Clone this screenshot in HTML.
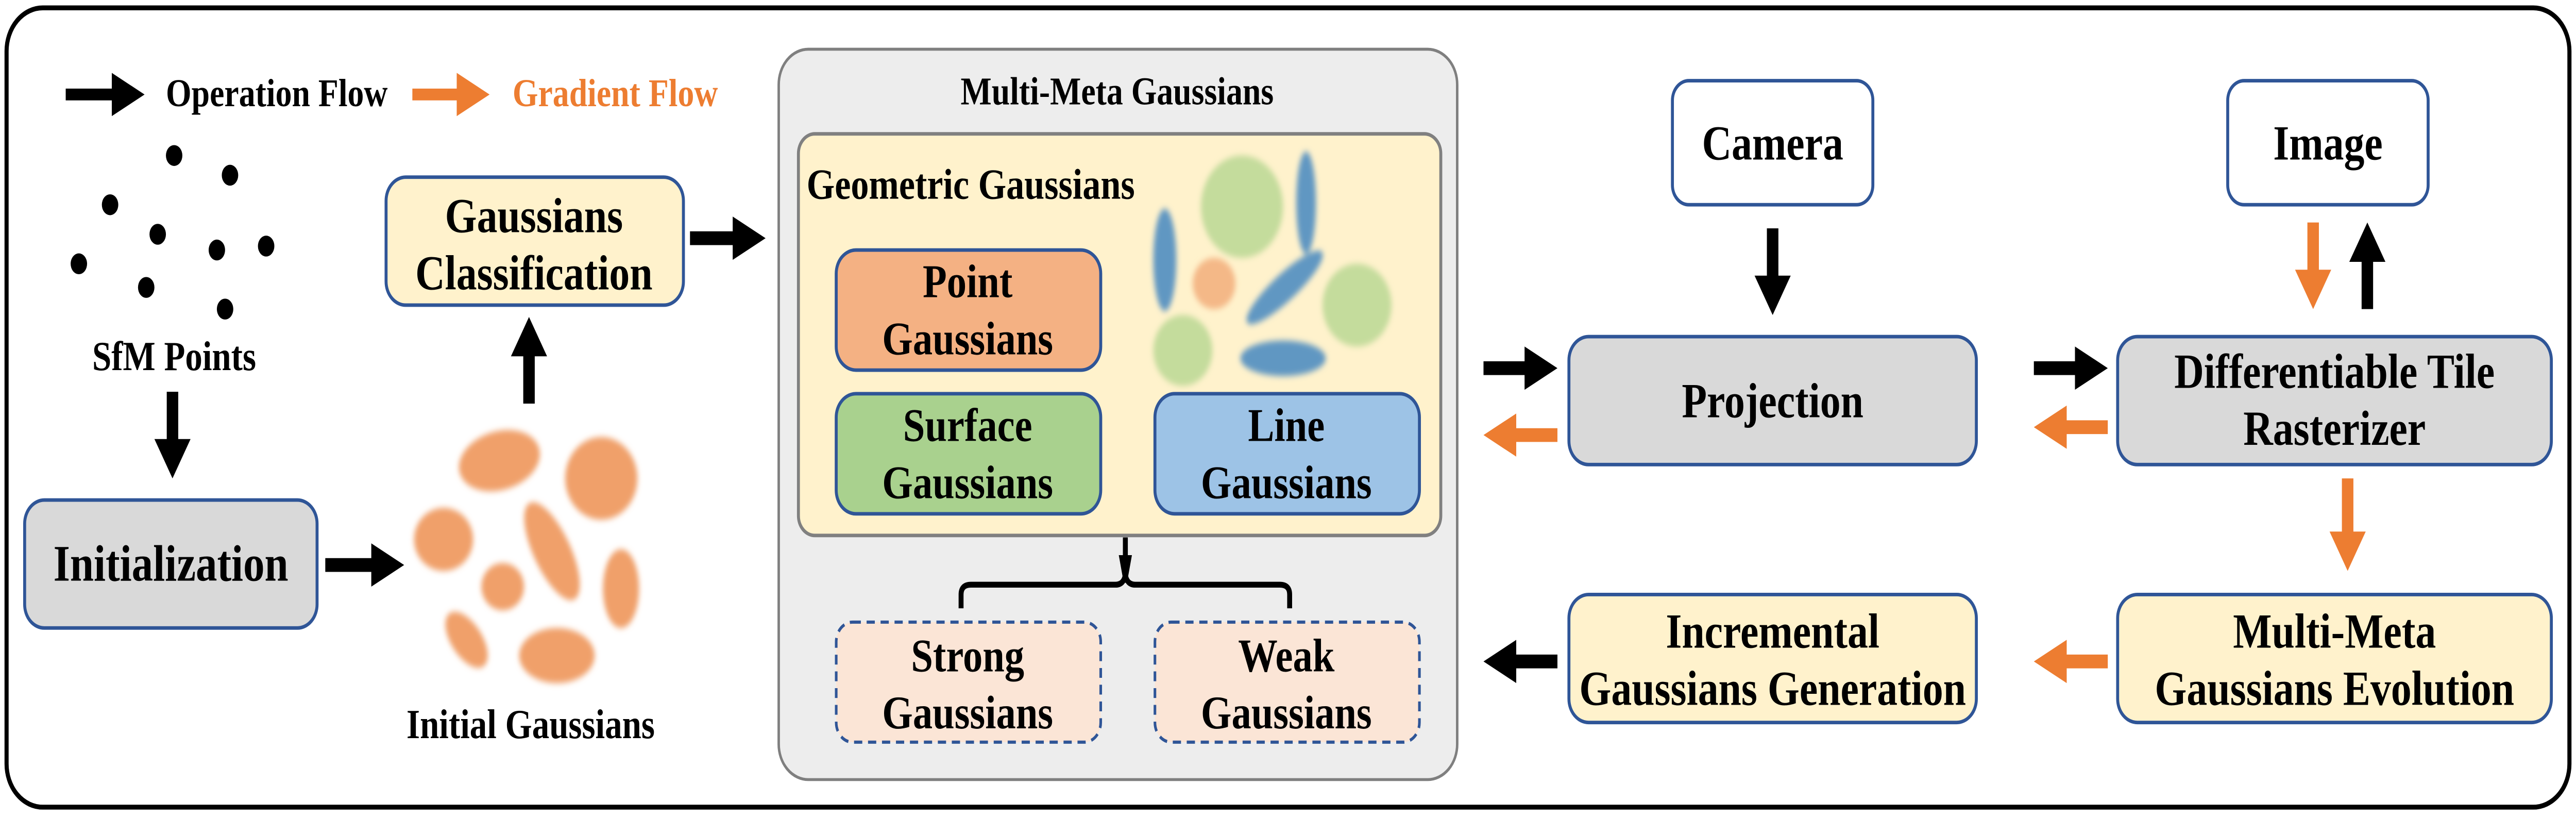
<!DOCTYPE html>
<html><head><meta charset="utf-8"><style>
html,body{margin:0;padding:0;background:#fff;overflow:hidden;width:100%;height:100%;}
svg{display:block;width:100vw;height:100vh;}
text{font-family:"Liberation Serif",serif;font-weight:bold;fill:#000;}
</style></head><body>
<svg viewBox="0 0 1568 415" preserveAspectRatio="none" xmlns="http://www.w3.org/2000/svg">
<defs>
<marker id="hb" markerUnits="userSpaceOnUse" markerWidth="22" markerHeight="24" refX="8" refY="11" orient="auto"><path d="M0,0 L20,11 L0,22 z" fill="#000"/></marker>
<marker id="ho" markerUnits="userSpaceOnUse" markerWidth="22" markerHeight="24" refX="8" refY="11" orient="auto"><path d="M0,0 L20,11 L0,22 z" fill="#ed7d31"/></marker>
<filter id="bl" x="-50%" y="-50%" width="200%" height="200%"><feGaussianBlur stdDeviation="1.6"/></filter>
</defs>
<rect x="4" y="4" width="1560" height="406" rx="22" fill="#fff" stroke="#000" stroke-width="2.5"/>

<line x1="40" y1="48" x2="76" y2="48" stroke="#000" stroke-width="6" marker-end="url(#hb)"/>
<text x="101" y="54" font-size="20">Operation Flow</text>
<line x1="251" y1="48" x2="286" y2="48" stroke="#ed7d31" stroke-width="6" marker-end="url(#ho)"/>
<text x="312" y="54" font-size="20" style="fill:#ed7d31">Gradient Flow</text>

<g fill="#000">
<ellipse cx="106" cy="79" rx="5" ry="5.3"/><ellipse cx="140" cy="89" rx="5" ry="5.3"/>
<ellipse cx="67" cy="104" rx="5" ry="5.3"/><ellipse cx="96" cy="119" rx="5" ry="5.3"/>
<ellipse cx="132" cy="127" rx="5" ry="5.3"/><ellipse cx="162" cy="125" rx="5" ry="5.3"/>
<ellipse cx="48" cy="134" rx="5" ry="5.3"/><ellipse cx="89" cy="146" rx="5" ry="5.3"/>
<ellipse cx="137" cy="157" rx="5" ry="5.3"/>
</g>
<text x="106" y="188" font-size="21" text-anchor="middle">SfM Points</text>
<line x1="105" y1="199" x2="105" y2="231" stroke="#000" stroke-width="7" marker-end="url(#hb)"/>

<rect x="15" y="254" width="178" height="65" rx="12" fill="#d9d9d9" stroke="#2f5597" stroke-width="1.8"/>
<text x="104" y="295" font-size="26" text-anchor="middle">Initialization</text>
<line x1="198" y1="287" x2="234" y2="287" stroke="#000" stroke-width="7" marker-end="url(#hb)"/>

<g fill="#f0a06a" filter="url(#bl)">
<ellipse cx="304" cy="234" rx="25" ry="15" transform="rotate(-12 304 234)"/>
<ellipse cx="366" cy="243" rx="22" ry="21"/>
<ellipse cx="270" cy="274" rx="18" ry="16"/>
<ellipse cx="336" cy="280" rx="11" ry="28" transform="rotate(-30 336 280)"/>
<ellipse cx="306" cy="298" rx="13" ry="12"/>
<ellipse cx="378" cy="299" rx="11" ry="20"/>
<ellipse cx="284" cy="325" rx="9" ry="17" transform="rotate(-40 284 325)"/>
<ellipse cx="339" cy="333" rx="23" ry="14"/>
</g>
<text x="323" y="375" font-size="21" text-anchor="middle">Initial Gaussians</text>
<line x1="322" y1="205" x2="322" y2="173" stroke="#000" stroke-width="7" marker-end="url(#hb)"/>

<rect x="235" y="90" width="181" height="65" rx="12" fill="#fff2cc" stroke="#2f5597" stroke-width="1.8"/>
<text x="325" y="118" font-size="25" text-anchor="middle">Gaussians</text>
<text x="325" y="147" font-size="25" text-anchor="middle">Classification</text>
<line x1="420" y1="121" x2="454" y2="121" stroke="#000" stroke-width="7" marker-end="url(#hb)"/>

<rect x="474" y="25" width="413" height="371" rx="18" fill="#ededed" stroke="#7f7f7f" stroke-width="1.5"/>
<text x="680" y="53" font-size="20" text-anchor="middle">Multi-Meta Gaussians</text>
<rect x="486" y="68" width="391" height="204" rx="10" fill="#fff2cc" stroke="#808080" stroke-width="1.8"/>
<text x="491" y="101" font-size="22">Geometric Gaussians</text>
<g filter="url(#bl)">
<ellipse cx="756" cy="105" rx="25" ry="26" fill="#c4dc9c"/>
<ellipse cx="826" cy="155" rx="21" ry="21" fill="#c4dc9c"/>
<ellipse cx="720" cy="178" rx="18" ry="18" fill="#c4dc9c"/>
<ellipse cx="795" cy="103" rx="6" ry="26" fill="#6097c2"/>
<ellipse cx="709" cy="132" rx="7" ry="26" fill="#6097c2"/>
<ellipse cx="739" cy="144" rx="13" ry="13" fill="#f4b887"/>
<ellipse cx="782" cy="146" rx="29" ry="7" fill="#6097c2" transform="rotate(-38 782 146)"/>
<ellipse cx="781" cy="182" rx="26" ry="9" fill="#6097c2"/>
</g>
<rect x="509" y="127" width="161" height="61" rx="12" fill="#f4b183" stroke="#2f5597" stroke-width="1.8"/>
<text x="589" y="151" font-size="24" text-anchor="middle">Point</text>
<text x="589" y="180" font-size="24" text-anchor="middle">Gaussians</text>
<rect x="509" y="200" width="161" height="61" rx="12" fill="#a9d18e" stroke="#2f5597" stroke-width="1.8"/>
<text x="589" y="224" font-size="24" text-anchor="middle">Surface</text>
<text x="589" y="253" font-size="24" text-anchor="middle">Gaussians</text>
<rect x="703" y="200" width="161" height="61" rx="12" fill="#9dc3e6" stroke="#2f5597" stroke-width="1.8"/>
<text x="783" y="224" font-size="24" text-anchor="middle">Line</text>
<text x="783" y="253" font-size="24" text-anchor="middle">Gaussians</text>

<line x1="685" y1="273" x2="685" y2="283" stroke="#000" stroke-width="3"/>
<path d="M681,282 L689,282 L686,296 L684,296 z" fill="#000"/>
<path d="M585,309 L585,302 Q585,297 591,297 L679,297 Q684,297 685,292 Q686,297 691,297 L779,297 Q785,297 785,302 L785,309" fill="none" stroke="#000" stroke-width="3"/>

<rect x="509" y="316" width="161" height="61" rx="10" fill="#fbe5d6" stroke="#2f5597" stroke-width="1.6" stroke-dasharray="5,3.5"/>
<text x="589" y="341" font-size="24" text-anchor="middle">Strong</text>
<text x="589" y="370" font-size="24" text-anchor="middle">Gaussians</text>
<rect x="703" y="316" width="161" height="61" rx="10" fill="#fbe5d6" stroke="#2f5597" stroke-width="1.6" stroke-dasharray="5,3.5"/>
<text x="783" y="341" font-size="24" text-anchor="middle">Weak</text>
<text x="783" y="370" font-size="24" text-anchor="middle">Gaussians</text>

<rect x="1018" y="41" width="122" height="63" rx="10" fill="#fff" stroke="#2f5597" stroke-width="1.8"/>
<text x="1079" y="81" font-size="25" text-anchor="middle">Camera</text>
<rect x="1356" y="41" width="122" height="63" rx="10" fill="#fff" stroke="#2f5597" stroke-width="1.8"/>
<text x="1417" y="81" font-size="25" text-anchor="middle">Image</text>
<line x1="1079" y1="116" x2="1079" y2="148" stroke="#000" stroke-width="7" marker-end="url(#hb)"/>
<line x1="1408" y1="113" x2="1408" y2="145" stroke="#ed7d31" stroke-width="7" marker-end="url(#ho)"/>
<line x1="1441" y1="157" x2="1441" y2="125" stroke="#000" stroke-width="7" marker-end="url(#hb)"/>

<rect x="955" y="171" width="248" height="65" rx="12" fill="#d9d9d9" stroke="#2f5597" stroke-width="1.8"/>
<text x="1079" y="212" font-size="25" text-anchor="middle">Projection</text>
<rect x="1289" y="171" width="264" height="65" rx="12" fill="#d9d9d9" stroke="#2f5597" stroke-width="1.8"/>
<text x="1421" y="197" font-size="25" text-anchor="middle">Differentiable Tile</text>
<text x="1421" y="226" font-size="25" text-anchor="middle">Rasterizer</text>

<line x1="903" y1="187" x2="936" y2="187" stroke="#000" stroke-width="7" marker-end="url(#hb)"/>
<line x1="948" y1="221" x2="915" y2="221" stroke="#ed7d31" stroke-width="7" marker-end="url(#ho)"/>
<line x1="1238" y1="187" x2="1271" y2="187" stroke="#000" stroke-width="7" marker-end="url(#hb)"/>
<line x1="1283" y1="217" x2="1250" y2="217" stroke="#ed7d31" stroke-width="7" marker-end="url(#ho)"/>
<line x1="1429" y1="243" x2="1429" y2="278" stroke="#ed7d31" stroke-width="7" marker-end="url(#ho)"/>

<rect x="1289" y="302" width="264" height="65" rx="12" fill="#fff2cc" stroke="#2f5597" stroke-width="1.8"/>
<text x="1421" y="329" font-size="25" text-anchor="middle">Multi-Meta</text>
<text x="1421" y="358" font-size="25" text-anchor="middle">Gaussians Evolution</text>
<rect x="955" y="302" width="248" height="65" rx="12" fill="#fff2cc" stroke="#2f5597" stroke-width="1.8"/>
<text x="1079" y="329" font-size="25" text-anchor="middle">Incremental</text>
<text x="1079" y="358" font-size="25" text-anchor="middle">Gaussians Generation</text>
<line x1="1283" y1="336" x2="1250" y2="336" stroke="#ed7d31" stroke-width="7" marker-end="url(#ho)"/>
<line x1="948" y1="336" x2="915" y2="336" stroke="#000" stroke-width="7" marker-end="url(#hb)"/>
</svg>
</body></html>
